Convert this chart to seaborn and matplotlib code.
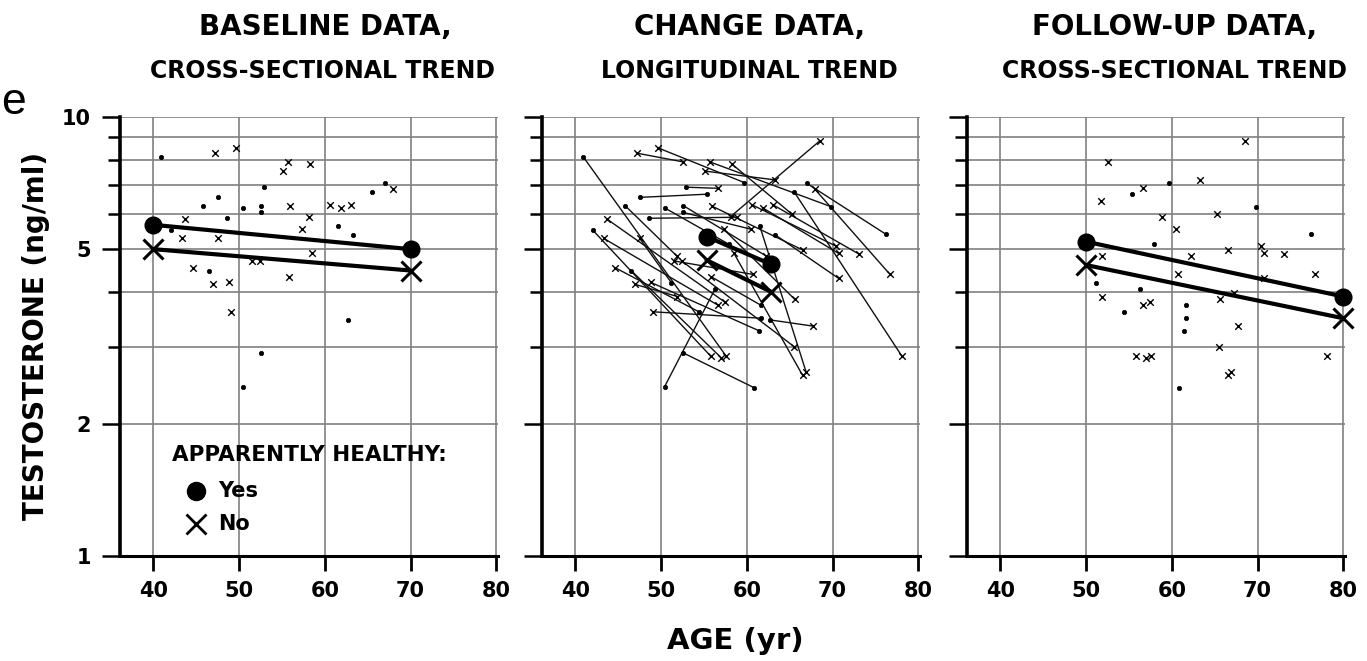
import numpy as np
import pandas as pd
import matplotlib
matplotlib.use('Agg')
import matplotlib.pyplot as plt
from matplotlib.ticker import FixedLocator, NullFormatter
import seaborn as sns

# baseline visit (age, testosterone ng/ml, apparently healthy?)
base_age = [40.9, 42.0, 43.3, 43.7, 44.6, 45.8, 46.5, 46.9, 47.2, 47.5,
            47.5, 48.6, 48.8, 49.0, 49.6, 50.4, 50.4, 51.5, 52.4, 52.6,
            52.6, 52.6, 52.9, 55.1, 55.7, 55.8, 55.9, 57.3, 58.1, 58.3,
            58.5, 60.6, 61.5, 61.9, 62.7, 63.1, 63.3, 65.5, 67.0, 67.9]
base_t = [8.12, 5.53, 5.29, 5.85, 4.54, 6.28, 4.47, 4.16, 8.27, 6.56,
          5.29, 5.88, 4.20, 3.60, 8.51, 6.21, 2.43, 4.70, 4.70, 6.28,
          6.06, 2.90, 6.92, 7.53, 7.90, 4.33, 6.27, 5.55, 5.93, 7.80,
          4.89, 6.31, 5.65, 6.20, 3.45, 6.30, 5.39, 6.76, 7.06, 6.86]
base_healthy = ['Yes', 'Yes', 'No', 'No', 'No', 'Yes', 'Yes', 'No', 'No', 'Yes',
                'No', 'Yes', 'No', 'No', 'No', 'Yes', 'Yes', 'No', 'No', 'Yes',
                'Yes', 'Yes', 'Yes', 'No', 'No', 'No', 'No', 'No', 'No', 'No',
                'No', 'No', 'Yes', 'No', 'Yes', 'No', 'Yes', 'Yes', 'Yes', 'No']

# follow-up visit
follow_age = [51.2, 51.7, 51.8, 51.9, 52.6, 54.4, 55.3, 55.8, 56.3, 56.6,
              56.6, 57.0, 57.5, 57.6, 57.9, 58.9, 59.7, 60.5, 60.7, 60.8,
              61.4, 61.6, 61.7, 62.2, 63.3, 65.3, 65.5, 65.6, 66.5, 66.5,
              66.9, 67.2, 67.7, 68.5, 69.8, 70.4, 70.7, 70.7, 73.1, 76.2,
              76.7, 78.1]
follow_t = [4.19, 6.45, 4.83, 3.90, 7.90, 3.60, 6.67, 2.85, 4.06, 6.88,
            3.73, 2.83, 3.78, 2.85, 5.13, 5.91, 7.09, 5.55, 4.38, 2.42,
            3.26, 3.73, 3.48, 4.83, 7.19, 6.00, 3.00, 3.84, 4.98, 2.58,
            2.63, 3.98, 3.34, 8.82, 6.25, 5.08, 4.89, 4.29, 4.87, 5.41,
            4.38, 2.85]
follow_healthy = ['Yes', 'No', 'No', 'No', 'No', 'Yes', 'Yes', 'No', 'Yes', 'No',
                  'No', 'No', 'No', 'No', 'Yes', 'No', 'Yes', 'No', 'No', 'Yes',
                  'Yes', 'Yes', 'Yes', 'No', 'No', 'No', 'No', 'No', 'No', 'No',
                  'No', 'No', 'No', 'No', 'Yes', 'No', 'No', 'No', 'No', 'Yes',
                  'No', 'No']

# which follow-up point belongs to each baseline subject (index into follow_*)
pair_follow = [13, 7, 10, 12, 5, 2, 11, 3, 4, 6,
               0, 15, 20, 22, 16, 14, 8, 18, 26, 23,
               17, 19, 9, 24, 34, 21, 28, 27, 33, 25,
               29, 35, 30, 36, 32, 38, 37, 41, 39, 40]

# fitted trends: (age start, age end), (T start, T end)
trend_base_age = [40, 70]
trend_base_yes = [5.68, 5.00]
trend_base_no = [5.00, 4.47]
trend_chg_age = [55.3, 62.8]
trend_chg_yes = [5.34, 4.62]
trend_chg_no = [4.72, 4.00]
trend_fu_age = [50, 80]
trend_fu_yes = [5.20, 3.90]
trend_fu_no = [4.60, 3.48]

base = pd.DataFrame({'age': base_age, 't': base_t, 'healthy': base_healthy})
follow = pd.DataFrame({'age': follow_age, 't': follow_t, 'healthy': follow_healthy})
rows = []
for i, j in enumerate(pair_follow):
    rows.append({'id': i, 'age': base_age[i], 't': base_t[i], 'healthy': base_healthy[i]})
    rows.append({'id': i, 'age': follow_age[j], 't': follow_t[j], 'healthy': follow_healthy[j]})
change = pd.DataFrame(rows)

sns.set_style('white')
plt.rcParams['font.family'] = ['DejaVu Sans']
plt.rcParams['font.weight'] = 'bold'
plt.rcParams['text.color'] = 'black'
plt.rcParams['xtick.color'] = 'black'
plt.rcParams['ytick.color'] = 'black'
plt.rcParams['axes.labelcolor'] = 'black'

fig = plt.figure(figsize=(13.67, 6.61), dpi=100)
lefts = [120 / 1367, 542 / 1367, 967 / 1367]
axes = [fig.add_axes([l, 105 / 661, 378 / 1367, 439 / 661]) for l in lefts]

grid_col = '#808080'


def small_points(ax, df):
    yes = df[df['healthy'] == 'Yes']
    no = df[df['healthy'] == 'No']
    sns.scatterplot(data=yes, x='age', y='t', marker='o', s=10, color='black',
                    edgecolor='black', linewidth=0.5, ax=ax, zorder=4, legend=False)
    sns.scatterplot(data=no, x='age', y='t', marker='x', s=22, color='black',
                    linewidth=1.0, ax=ax, zorder=4, legend=False)


def trend(ax, ages, yes, no):
    sns.lineplot(x=ages, y=yes, color='black', lw=3, ax=ax, zorder=5)
    sns.lineplot(x=ages, y=no, color='black', lw=3, ax=ax, zorder=5)
    ax.plot(ages, yes, ls='none', marker='o', ms=12, color='black', zorder=6, clip_on=False)
    ax.plot(ages, no, ls='none', marker='x', ms=15, mew=2.2, color='black', zorder=6, clip_on=False)


for k, ax in enumerate(axes):
    ax.set_yscale('log')
    ax.set_ylim(1, 10)
    ax.set_xlim(36.1, 80.2)
    ax.set_xticks([40, 50, 60, 70, 80])
    ax.set_xticklabels(['40', '50', '60', '70', '80'], fontsize=15, fontweight='bold')
    ax.yaxis.set_major_locator(FixedLocator([1, 2, 5, 10]))
    ax.yaxis.set_minor_locator(FixedLocator([3, 4, 6, 7, 8, 9]))
    ax.yaxis.set_minor_formatter(NullFormatter())
    if k == 0:
        ax.set_yticklabels(['1', '2', '5', '10'], fontsize=15, fontweight='bold')
    else:
        ax.set_yticklabels([])
    ax.grid(True, which='both', axis='y', color=grid_col, lw=1.2)
    ax.grid(True, which='major', axis='x', color=grid_col, lw=1.2)
    ax.tick_params(axis='y', which='major', direction='out', length=13, width=1.8,
                   pad=8, left=True, color='black')
    ax.tick_params(axis='y', which='minor', direction='out', length=8.5, width=1.8,
                   left=True, color='black')
    ax.tick_params(axis='x', direction='out', length=11, width=2, pad=7,
                   bottom=True, color='black')
    for side in ['top', 'right']:
        ax.spines[side].set_visible(False)
    ax.spines['left'].set_linewidth(2.6)
    ax.spines['bottom'].set_linewidth(2.2)
    ax.spines['left'].set_color('black')
    ax.spines['bottom'].set_color('black')

# panel 1: baseline
small_points(axes[0], base)
trend(axes[0], trend_base_age, trend_base_yes, trend_base_no)

# panel 2: change, one segment per subject
sns.lineplot(data=change, x='age', y='t', units='id', estimator=None, sort=False,
             color='#111111', lw=1.0, ax=axes[1], zorder=3)
small_points(axes[1], change)
trend(axes[1], trend_chg_age, trend_chg_yes, trend_chg_no)

# panel 3: follow-up
small_points(axes[2], follow)
trend(axes[2], trend_fu_age, trend_fu_yes, trend_fu_no)

for ax in axes:
    ax.set_xlabel('')
    ax.set_ylabel('')
    ax.set_xlim(36.1, 80.2)
    ax.set_ylim(1, 10)

# legend drawn inside the baseline panel
lg = axes[0]
lg.text(0.138, 0.230, 'APPARENTLY HEALTHY:', transform=lg.transAxes, fontsize=15.5,
        fontweight='bold', va='center', ha='left')
lg.plot([0.2016], [0.148], transform=lg.transAxes, marker='o', ms=13, color='black', ls='none')
lg.plot([0.2016], [0.073], transform=lg.transAxes, marker='x', ms=15, mew=2, color='black', ls='none')
lg.text(0.26, 0.148, 'Yes', transform=lg.transAxes, fontsize=15, fontweight='bold', va='center')
lg.text(0.26, 0.073, 'No', transform=lg.transAxes, fontsize=15, fontweight='bold', va='center')

# panel titles
titles = [('BASELINE DATA,', 'CROSS-SECTIONAL TREND', 325, 322),
          ('CHANGE DATA,', 'LONGITUDINAL TREND', 750, 749),
          ('FOLLOW-UP DATA,', 'CROSS-SECTIONAL TREND', 1175, 1175)]
for t1, t2, x1, x2 in titles:
    fig.text(x1 / 1367, 1 - 27 / 661, t1, fontsize=20, fontweight='bold', ha='center', va='center')
    fig.text(x2 / 1367, 1 - 71 / 661, t2, fontsize=17, fontweight='bold', ha='center', va='center')

fig.text(36 / 1367, 1 - 336 / 661, 'TESTOSTERONE (ng/ml)', rotation=90, fontsize=20,
         fontweight='bold', ha='center', va='center')
fig.text(735 / 1367, 1 - 641 / 661, 'AGE (yr)', fontsize=21, fontweight='bold',
         ha='center', va='center')
fig.text(1 / 1367, 1 - 102 / 661, 'e', fontsize=32, fontweight='normal',
         family='Liberation Sans', ha='left', va='center')

fig.savefig('out.png', dpi=100)
